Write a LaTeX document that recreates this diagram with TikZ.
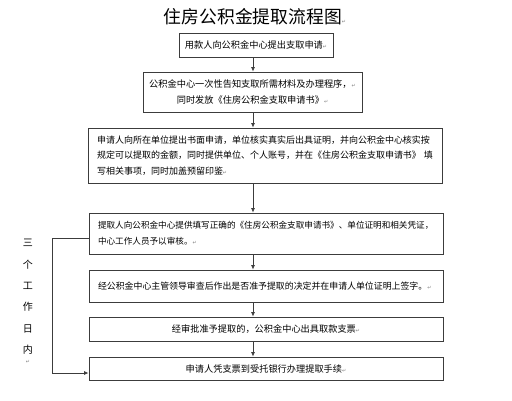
\documentclass[tikz,border=0pt]{standalone}
\usepackage{fontspec}
\setmainfont{Noto Sans CJK SC}
\newfontfamily\markfont{DejaVu Sans}
\usetikzlibrary{arrows.meta,positioning}
\definecolor{linegray}{HTML}{3C3C3C}
\newcommand{\pmark}{{\markfont\fontsize{5}{5}\selectfont\color{gray}↵}}

\begin{document}
\begin{tikzpicture}[x=1pt,y=1pt,
    stepbox/.style={draw=linegray,line width=0.8pt,inner sep=0pt,
      font=\fontsize{9.2}{15.6}\selectfont},
    widebox/.style={stepbox,text width=336pt,inner xsep=9pt,align=left},
    flow/.style={draw=linegray,line width=0.8pt,-{Latex[length=4.5pt,width=4pt]}}]

  \useasboundingbox (0,0) rectangle (512,-400);

  \node[font=\fontsize{17.8}{18}\selectfont] (title) at (255,-17) {住房公积金提取流程图\pmark};

  \node[stepbox,minimum width=154pt,minimum height=24pt] (s1) at (256,-45)
    {用款人向公积金中心提出支取申请\pmark};
  \node[stepbox,minimum width=219pt,minimum height=40pt,align=center] (s2) at (252.5,-92)
    {公积金中心一次性告知支取所需材料及办理程序，\pmark\\同时发放《住房公积金支取申请书》\pmark};
  \node[widebox,minimum height=55pt,font=\fontsize{9}{15.6}\selectfont] (s3) at (265,-155.5)
    {申请人向所在单位提出书面申请，单位核实真实后出具证明，并向公积金中心核实按\\
     规定可以提取的金额，同时提供单位、个人账号，并在《住房公积金支取申请书》\hfill 填\\
     写相关事项，同时加盖预留印鉴\pmark};
  \node[widebox,minimum height=41pt,font=\fontsize{8.6}{15.6}\selectfont] (s4) at (266,-233.5)
    {提取人向公积金中心提供填写正确的《住房公积金支取申请书》、单位证明和相关凭证，\\
     中心工作人员予以审核。\pmark};
  \node[widebox,minimum height=32pt,font=\fontsize{8.9}{15.6}\selectfont] (s5) at (266,-286)
    {经公积金中心主管领导审查后作出是否准予提取的决定并在申请人单位证明上签字。\pmark};
  \node[stepbox,minimum width=354pt,minimum height=24pt] (s6) at (266,-329)
    {经审批准予提取的，公积金中心出具取款支票\pmark};
  \node[stepbox,minimum width=354pt,minimum height=23pt] (s7) at (266,-368.5)
    {申请人凭支票到受托银行办理提取手续\pmark};

  % three working days
  \node[anchor=north,inner sep=0pt,align=center,font=\fontsize{10}{21.4}\selectfont] (days) at (28,-239)
    {三\\个\\工\\作\\日\\内\\[-12pt]\pmark};

  \coordinate (ax) at (253,0);
  \foreach \a/\b in {s1/s2,s2/s3,s3/s4,s4/s5,s5/s6,s6/s7}
    \draw[flow] (\a.south -| ax) -- (\b.north -| ax);

  \draw[flow] ([yshift=-4.5pt]s4.west) -- ++(-36pt,0) |- ([yshift=-4.5pt]s7.west);

\end{tikzpicture}
\end{document}
